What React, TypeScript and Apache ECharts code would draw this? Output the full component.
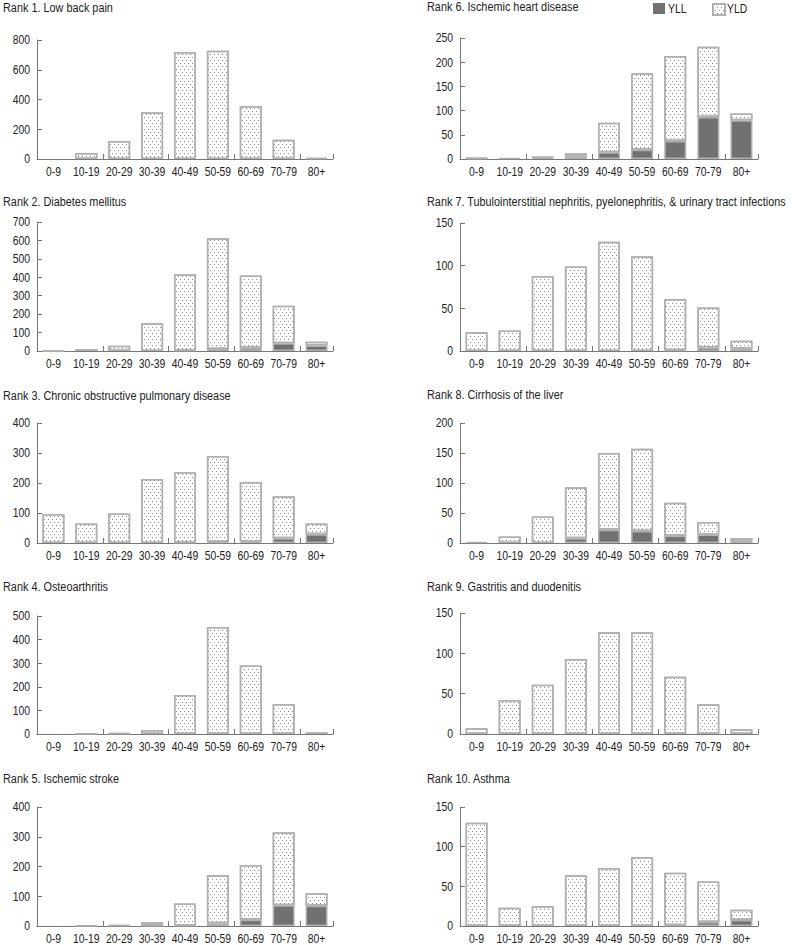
import React, { useEffect, useRef } from 'react';
import * as echarts from 'echarts';

const ageGroups = ['0-9', '10-19', '20-29', '30-39', '40-49', '50-59', '60-69', '70-79', '80+'];
const legendNames = ['YLL', 'YLD'];

const titles = [
  'Rank 1. Low back pain',
  'Rank 2. Diabetes mellitus',
  'Rank 3. Chronic obstructive pulmonary disease',
  'Rank 4. Osteoarthritis',
  'Rank 5. Ischemic stroke',
  'Rank 6. Ischemic heart disease',
  'Rank 7. Tubulointerstitial nephritis, pyelonephritis, & urinary tract infections',
  'Rank 8. Cirrhosis of the liver',
  'Rank 9. Gastritis and duodenitis',
  'Rank 10. Asthma',
];

const yMax = [800, 700, 400, 500, 400, 250, 150, 200, 150, 150];
const yInterval = [200, 100, 100, 100, 100, 50, 50, 50, 50, 50];

// Rank 1. Low back pain
const yll1 = [null, null, null, null, null, null, null, null, null];
const yld1 = [null, 40, 121, 315, 720, 728, 357, 130, 8];
// Rank 2. Diabetes mellitus
const yll2 = [null, null, null, null, 3, 11, 18, 42, 30];
const yld2 = [1, 11, 29, 151, 413, 601, 392, 203, 20];
// Rank 3. COPD
const yll3 = [null, null, null, null, 1, 3, 5, 16, 29];
const yld3 = [97, 65, 98, 213, 236, 287, 198, 140, 36];
// Rank 4. Osteoarthritis
const yll4 = [null, null, null, null, null, null, null, null, null];
const yld4 = [null, 2, 4, 17, 165, 453, 290, 127, 7];
// Rank 5. Ischemic stroke
const yll5 = [null, null, null, 1, 2, 9, 21, 70, 68];
const yld5 = [null, 2, 3, 12, 74, 162, 184, 245, 42];
// Rank 6. Ischemic heart disease
const yll6 = [1.5, 2, 3, 5, 14, 19, 37, 87, 80];
const yld6 = [0.5, null, 1, 7, 61, 158, 176, 145, 14];
// Rank 7. Tubulointerstitial nephritis...
const yll7 = [null, null, null, null, null, null, 1, 4, 3];
const yld7 = [22, 24, 88, 99, 128, 111, 60, 47, 9];
// Rank 8. Cirrhosis of the liver
const yll8 = [2, null, null, 8, 22, 20, 12, 14, 4];
const yld8 = [null, 11, 44, 85, 128, 137, 55, 21, 4];
// Rank 9. Gastritis and duodenitis
const yll9 = [null, null, null, null, null, null, null, null, null];
const yld9 = [7, 42, 61, 93, 126, 126, 71, 37, 6];
// Rank 10. Asthma
const yll10 = [null, null, null, null, null, null, 1, 5, 7.5];
const yld10 = [130, 23, 25, 64, 73, 87, 66, 51, 13];

const yllAll = [yll1, yll2, yll3, yll4, yll5, yll6, yll7, yll8, yll9, yll10];
const yldAll = [yld1, yld2, yld3, yld4, yld5, yld6, yld7, yld8, yld9, yld10];

// layout: [plot top (max tick), baseline y]
const panelY = [
  [40, 159], [222, 351], [423, 543], [616, 734], [807, 926],
  [38, 159], [223, 351], [423, 543], [613, 734], [807, 926],
];
const titleY = [8, 202, 396, 587, 779, 7, 202, 395, 587, 779];

const FONT = "'Liberation Sans', Arial, sans-serif";
const SCALE_X = 0.83;
const TITLE_SCALE_X = 0.805;
const AXIS_COLOR = '#777';
const TEXT_COLOR = '#222';
const BORDER = '#b0b0b0';
const YLL_COLOR = '#717171';

const decal = {
  symbol: 'rect',
  symbolSize: 1,
  color: '#8c8c8c',
  dashArrayX: [[1, 3], [0, 2, 1, 1]],
  dashArrayY: [1, 2],
  rotation: 0,
};

function scaledText(text: string, x: number, y: number, size: number, align: string, sx = SCALE_X) {
  return {
    type: 'text',
    x,
    y,
    scaleX: sx,
    scaleY: 1,
    silent: true,
    style: {
      text,
      fontFamily: FONT,
      fontSize: size,
      fill: TEXT_COLOR,
      align,
      verticalAlign: 'middle',
    },
  };
}

export default function App() {
  const ref = useRef<HTMLDivElement>(null);
  useEffect(() => {
    if (!ref.current) return;
    const chart = echarts.init(ref.current, null, { renderer: 'svg' });
    const grid: any[] = [];
    const xAxis: any[] = [];
    const yAxis: any[] = [];
    const series: any[] = [];
    for (let i = 0; i < 10; i++) {
      const left = i < 5;
      const [top, base] = panelY[i];
      grid.push({
        left: left ? 37 : 460,
        width: left ? 296 : 298,
        top,
        height: base - top,
        containLabel: false,
      });
      xAxis.push({
        type: 'category',
        gridIndex: i,
        data: ageGroups,
        axisLine: { show: true, lineStyle: { color: AXIS_COLOR, width: 1 } },
        axisTick: { show: true, inside: true, length: 5, alignWithLabel: false, lineStyle: { color: AXIS_COLOR } },
        axisLabel: { show: false },
        splitLine: { show: false },
      });
      yAxis.push({
        type: 'value',
        gridIndex: i,
        min: 0,
        max: yMax[i],
        interval: yInterval[i],
        axisLine: { show: true, lineStyle: { color: AXIS_COLOR, width: 1 } },
        axisTick: { show: true, inside: true, length: 5, lineStyle: { color: AXIS_COLOR } },
        axisLabel: { show: false },
        splitLine: { show: false },
      });
      series.push({
        name: legendNames[0],
        type: 'bar',
        xAxisIndex: i,
        yAxisIndex: i,
        stack: 's' + i,
        barWidth: 22,
        data: yllAll[i],
        itemStyle: { color: YLL_COLOR, borderColor: BORDER, borderWidth: 1.5 },
      });
      series.push({
        name: legendNames[1],
        type: 'bar',
        xAxisIndex: i,
        yAxisIndex: i,
        stack: 's' + i,
        barWidth: 22,
        data: yldAll[i],
        itemStyle: { color: '#ffffff', borderColor: BORDER, borderWidth: 1.5, decal },
      });
    }
    chart.setOption({
      animation: false,
      backgroundColor: '#ffffff',
      legend: [
        {
          data: [legendNames[0]],
          left: 653,
          top: 3,
          padding: 0,
          itemWidth: 12,
          itemHeight: 11,
          icon: 'rect',
          itemStyle: { borderWidth: 0 },
          formatter: () => '',
          selectedMode: false,
        },
        {
          data: [legendNames[1]],
          left: 712,
          top: 3,
          padding: 0,
          itemWidth: 12,
          itemHeight: 11,
          icon: 'rect',
          formatter: () => '',
          selectedMode: false,
        },
      ],
      grid,
      xAxis,
      yAxis,
      series,
    });

    // texts drawn at positions given by the chart's own axes
    const graphic: any[] = [];
    for (let i = 0; i < 10; i++) {
      const left = i < 5;
      const axisX = left ? 37 : 460;
      const base = panelY[i][1];
      graphic.push(scaledText(titles[i], left ? 3 : 427, titleY[i], 13.5, 'left', TITLE_SCALE_X));
      ageGroups.forEach((g) => {
        const px = chart.convertToPixel({ xAxisIndex: i } as any, g) as any;
        graphic.push(scaledText(g, px, base + 13, 12.5, 'center'));
      });
      for (let v = 0; v <= yMax[i]; v += yInterval[i]) {
        const py = chart.convertToPixel({ yAxisIndex: i } as any, v) as any;
        graphic.push(scaledText(String(v), axisX - 7, py, 12.5, 'right'));
      }
    }
    graphic.push(scaledText(legendNames[0], 668, 9, 12.5, 'left'));
    graphic.push(scaledText(legendNames[1], 727, 9, 12.5, 'left'));
    chart.setOption({ graphic });

    return () => chart.dispose();
  }, []);
  return (
    <div
      ref={ref}
      style={{ position: 'fixed', left: 0, top: 0, width: 793, height: 945, background: '#fff' }}
    />
  );
}
